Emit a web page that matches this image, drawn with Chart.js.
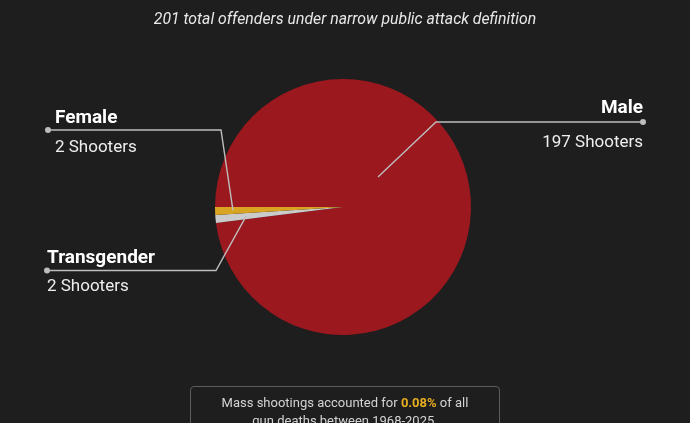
<!DOCTYPE html>
<html>
<head>
<meta charset="utf-8">
<script src="https://cdn.jsdelivr.net/npm/chart.js@4/dist/chart.umd.min.js"></script>
<style>
  html, body { margin: 0; padding: 0; background: #1e1e1e; }
  #wrap { position: relative; width: 690px; height: 423px; overflow: hidden; background: #1e1e1e; }
  #note {
    position: absolute; left: 190px; top: 386px; width: 310px; height: 60px;
    box-sizing: border-box; border: 1px solid #5c5c5c; border-radius: 4px;
    color: #d4d4d4; font: 13px Roboto, sans-serif; text-align: center;
    line-height: 17.5px; padding-top: 7px;
  }
  #note b { color: #e6ad1f; }
</style>
</head>
<body>
<div id="wrap">
  <canvas id="myChart" width="690" height="423"></canvas>
  <div id="note">Mass shootings accounted for <b>0.08%</b> of all<br>gun deaths between 1968-2025.</div>
</div>
<script>
const titleText = '201 total offenders under narrow public attack definition';
const groups = ['Male', 'Transgender', 'Female'];
const shooters = [197, 2, 2];
const sliceColors = ['#9b181f', '#cbcbcb', '#d9a421'];

/* where each callout sits (layout only) */
const callouts = [
  { align: 'right', dotX: 643, lineY: 122, elbowX: 436, textX: 643, nameDy: -8.7, countDy: 24.5, angle: -40.6, r: 0.36 },
  { align: 'left', dotX: 47, lineY: 270.5, elbowX: 216, textX: 47, nameDy: -7.5, countDy: 20.5, r: 0.76 },
  { align: 'left', dotX: 48, lineY: 130, elbowX: 221, textX: 55, nameDy: -7.5, countDy: 21.5, r: 0.86 }
];

const calloutPlugin = {
  id: 'callouts',
  afterDraw(chart) {
    const ctx = chart.ctx;
    const arcs = chart.getDatasetMeta(0).data;
    ctx.save();
    // title
    ctx.fillStyle = '#e8e8e8';
    ctx.font = 'italic 15.8px Roboto';
    ctx.textAlign = 'center';
    ctx.textBaseline = 'alphabetic';
    ctx.fillText(titleText, 345, 23.5);

    arcs.forEach((arc, i) => {
      const c = callouts[i];
      const a = c.angle !== undefined ? c.angle * Math.PI / 180 : (arc.startAngle + arc.endAngle) / 2;
      const ax = arc.x + Math.cos(a) * arc.outerRadius * c.r;
      const ay = arc.y + Math.sin(a) * arc.outerRadius * c.r;
      ctx.strokeStyle = '#bdbdbd';
      ctx.lineWidth = 1.4;
      ctx.beginPath();
      ctx.moveTo(ax, ay);
      ctx.lineTo(c.elbowX, c.lineY);
      ctx.lineTo(c.dotX, c.lineY);
      ctx.stroke();
      ctx.fillStyle = '#bdbdbd';
      ctx.beginPath();
      ctx.arc(c.dotX, c.lineY, 3, 0, Math.PI * 2);
      ctx.fill();

      ctx.textAlign = c.align;
      ctx.fillStyle = '#ffffff';
      ctx.font = 'bold 19px Roboto';
      ctx.fillText(groups[i], c.textX, c.lineY + c.nameDy);
      ctx.fillStyle = '#eeeeee';
      ctx.font = '17px Roboto';
      ctx.fillText(shooters[i] + ' Shooters', c.textX, c.lineY + c.countDy);
    });
    ctx.restore();
  }
};

const ctx = document.getElementById('myChart');
new Chart(ctx, {
  type: 'pie',
  data: {
    labels: groups,
    datasets: [{
      data: shooters,
      backgroundColor: sliceColors,
      borderWidth: 0
    }]
  },
  options: {
    responsive: false,
    animation: false,
    rotation: 270,
    layout: { padding: { top: 79, bottom: 88, left: 0, right: 4 } },
    plugins: { legend: { display: false }, tooltip: { enabled: false } }
  },
  plugins: [calloutPlugin]
});
</script>
</body>
</html>
